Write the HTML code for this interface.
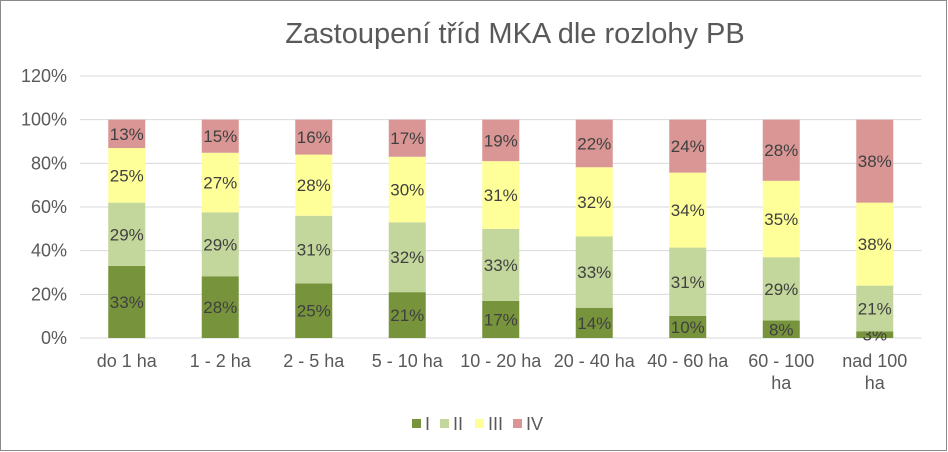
<!DOCTYPE html>
<html><head><meta charset="utf-8"><style>
body{margin:0;background:#fff}
svg{display:block;font-family:"Liberation Sans",Arial,sans-serif}
</style></head><body>
<svg id="c" width="948" height="452" viewBox="0 0 948 452">
<rect x="0.5" y="0.5" width="946" height="450" fill="#fff" stroke="#8a8a8a"/>
<text x="515" y="43" text-anchor="middle" font-size="29" fill="#595959">Zastoupení tříd MKA dle rozlohy PB</text>
<g id="grid"></g><g id="bars"></g><g id="xl"></g>
<g font-size="18" fill="#595959">
<rect x="412" y="419" width="9" height="9" fill="#77933C"/><text x="425" y="430">I</text>
<rect x="440" y="419" width="9" height="9" fill="#C3D69B"/><text x="453" y="430">II</text>
<rect x="475" y="419" width="9" height="9" fill="#FFFF99"/><text x="488" y="430">III</text>
<rect x="513" y="419" width="9" height="9" fill="#D99694"/><text x="526" y="430">IV</text>
</g>
</svg>
<script>
const categories=[["do 1 ha"],["1 - 2 ha"],["2 - 5 ha"],["5 - 10 ha"],["10 - 20 ha"],["20 - 40 ha"],["40 - 60 ha"],["60 - 100","ha"],["nad 100","ha"]];
const seriesI=[33,28,25,21,17,14,10,8,3];
const seriesII=[29,29,31,32,33,33,31,29,21];
const seriesIII=[25,27,28,30,31,32,34,35,38];
const seriesIV=[13,15,16,17,19,22,24,28,38];
const yTicks=[0,20,40,60,80,100,120];
const NS="http://www.w3.org/2000/svg";
const x0=80,x1=921.5,y0=338,yTop=76,yMax=120;
const bw=(x1-x0)/categories.length;
const y=v=>y0-(v/yMax)*(y0-yTop);
const xc=i=>x0+bw*(i+0.5);
function mk(tag,attrs,parent){const e=document.createElementNS(NS,tag);for(const k in attrs)e.setAttribute(k,attrs[k]);parent.appendChild(e);return e;}
const grid=document.getElementById('grid'),bars=document.getElementById('bars'),xl=document.getElementById('xl');
yTicks.forEach(t=>{
  const l=mk('line',{x1:x0,x2:x1,y1:y(t),y2:y(t),stroke:'#d9d9d9'},grid);
  
  
  const tx=mk('text',{x:67,y:y(t)+6,'text-anchor':'end','font-size':18,fill:'#595959'},grid);
  tx.textContent=t+'%';
  
  
});
const series=[seriesI,seriesII,seriesIII,seriesIV];
const colors=['#77933C','#C3D69B','#FFFF99','#D99694'];
const names=['i','ii','iii','iv'];
categories.forEach((c,i)=>{
  const total=series.reduce((a,s)=>a+s[i],0);
  let acc=0;
  series.forEach((s,k)=>{
    const v=s[i];const p=v/total*100;
    const top=y(acc+p),bot=y(acc);
    const r=mk('rect',{x:xc(i)-18.5,y:top,width:37,height:bot-top,fill:colors[k]},bars);
    
    
    const t=mk('text',{x:xc(i),y:(top+bot)/2+6,'text-anchor':'middle','font-size':17,fill:'#404040'},bars);
    t.textContent=v+'%';
    
    
    acc+=p;
  });
  c.forEach((line,j)=>{
    const t=mk('text',{x:xc(i),y:367+j*22,'text-anchor':'middle','font-size':18,fill:'#595959'},xl);
    t.textContent=line;
    
    
  });
});
</script>
</body></html>
